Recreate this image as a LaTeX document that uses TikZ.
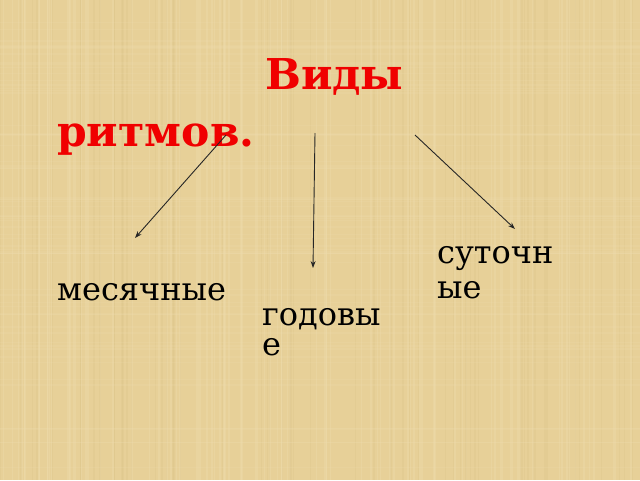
\documentclass[tikz,border=0pt]{standalone}
\usepackage{fontspec}
\setmainfont{DejaVu Serif}
\usetikzlibrary{arrows.meta}
\definecolor{paper}{HTML}{E7D098}
\definecolor{paperlight}{HTML}{F0DEB0}
\definecolor{paperdark}{HTML}{D9BF85}
\definecolor{titlered}{HTML}{F00000}
\tikzset{
  lbl/.style={inner sep=0pt, anchor=base west, font=\fontsize{32}{30}\selectfont, text=black, align=left},
  ttl/.style={inner sep=0pt, anchor=base west, font=\fontsize{42.5}{57}\selectfont\bfseries, text=titlered, align=left},
  arr/.style={draw=black!85, line width=0.9pt, -{Stealth[length=7pt,width=5pt]}}
}
\begin{document}
\begin{tikzpicture}[x=1pt,y=-1pt]
\useasboundingbox (0,0) rectangle (640,480);
\fill[paper] (0,0) rectangle (640,480);
% faint canvas texture
\pgfmathsetseed{7}
\foreach \i in {1,...,90}{
  \pgfmathsetmacro{\xx}{rnd*640}
  \pgfmathsetmacro{\ww}{0.5+rnd*2}
  \fill[paperlight, opacity=0.3] (\xx,0) rectangle ++(\ww,480);
}
\foreach \i in {1,...,60}{
  \pgfmathsetmacro{\xx}{rnd*640}
  \pgfmathsetmacro{\ww}{0.5+rnd*1.5}
  \fill[paperdark, opacity=0.22] (\xx,0) rectangle ++(\ww,480);
}
\foreach \i in {1,...,70}{
  \pgfmathsetmacro{\yy}{rnd*480}
  \pgfmathsetmacro{\hh}{0.5+rnd*1.2}
  \fill[paperlight, opacity=0.18] (0,\yy) rectangle ++(640,\hh);
}
% texts (base anchor = baseline of the last line)
\node[ttl] (title) at (57,146) {\hspace*{208pt}Виды\\ритмов.};
\node[lbl] (mes) at (57,300) {месячные};
\node[lbl, font=\fontsize{32}{30}\selectfont] (god) at (262,355) {годовы\\е};
\node[lbl, font=\fontsize{32}{35}\selectfont] (sut) at (437,298) {суточн\\ые};
% arrow anchors
\coordinate (s1) at (226,135);
\coordinate (e1) at (135,238);
\coordinate (s2) at (315,133);
\coordinate (e2) at (313,268);
\coordinate (s3) at (415,135);
\coordinate (e3) at (515,229);
\draw[arr] (s1) -- (e1);
\draw[arr] (s2) -- (e2);
\draw[arr] (s3) -- (e3);
\end{tikzpicture}
\end{document}
